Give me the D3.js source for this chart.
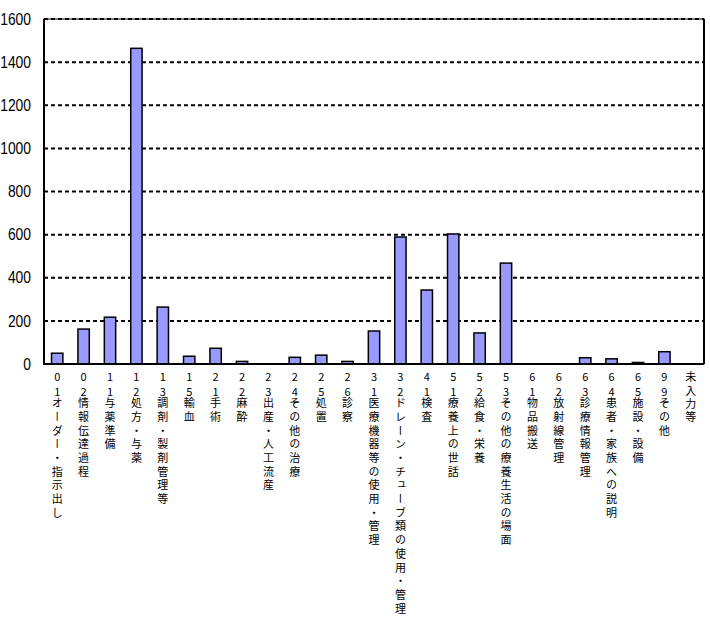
<!DOCTYPE html>
<html><head><meta charset="utf-8">
<script src="https://cdnjs.cloudflare.com/ajax/libs/d3/7.8.5/d3.min.js"></script>
<style>
html,body{margin:0;padding:0;background:#fff;}
svg{display:block;}
.vlab{writing-mode:vertical-rl;text-orientation:upright;}
</style></head>
<body>
<svg id="chart" width="710" height="620"></svg>
<script>
const codes = ["01","02","11","12","13","15","21","22","23","24","25","26","31","32","41","51","52","53","61","62","63","64","65","99",""];
const names = ["オーダー・指示出し","情報伝達過程","与薬準備","処方・与薬","調剤・製剤管理等","輸血","手術","麻酔","出産・人工流産","その他の治療","処置","診察","医療機器等の使用・管理","ドレーン・チューブ類の使用・管理","検査","療養上の世話","給食・栄養","その他の療養生活の場面","物品搬送","放射線管理","診療情報管理","患者・家族への説明","施設・設備","その他","未入力等"];
const values = [50,162,217,1464,264,36,73,12,0,31,41,12,153,589,343,603,144,468,0,0,29,24,7,57,0];
const yTicks = [0,200,400,600,800,1000,1200,1400,1600];

const svg = d3.select("#chart");
const L = 44, R = 704, T = 19, B = 364;
const idx = d3.range(codes.length);
const x = d3.scaleBand().domain(idx).range([L, R]).paddingInner(0.57).paddingOuter(0.285);
const y = d3.scaleLinear().domain([0,1600]).range([B, T]);

// gridlines
svg.append("g").selectAll("line").data(yTicks.filter(d=>d>0)).join("line")
  .attr("x1", L).attr("x2", R).attr("y1", d=>y(d)).attr("y2", d=>y(d))
  .attr("stroke","#000").attr("stroke-width",2).attr("stroke-dasharray","4,3");

// frame
svg.append("rect").attr("x",L).attr("y",T).attr("width",R-L).attr("height",B-T)
  .attr("fill","none").attr("stroke","#000").attr("stroke-width",1);

// bars
svg.append("g").selectAll("rect").data(idx.filter(i=>values[i]>0)).join("rect")
  .attr("x", i=>x(i)).attr("width", x.bandwidth())
  .attr("y", i=>y(values[i])).attr("height", i=>B - y(values[i]))
  .attr("fill","#9999ff").attr("stroke","#000").attr("stroke-width",1.5);

// axes lines
svg.append("line").attr("x1",L).attr("x2",L).attr("y1",T).attr("y2",B+1).attr("stroke","#000").attr("stroke-width",2);
svg.append("line").attr("x1",L).attr("x2",R).attr("y1",B).attr("y2",B).attr("stroke","#000").attr("stroke-width",2);
svg.append("line").attr("x1",R).attr("x2",R).attr("y1",T).attr("y2",B).attr("stroke","#000").attr("stroke-width",2);

// y axis labels via d3 axis
const yAxis = d3.axisLeft(y).tickValues(yTicks).tickSize(0).tickPadding(13).tickFormat(d3.format("d"));
const ga = svg.append("g").attr("transform",`translate(${L},0)`).call(yAxis);
ga.select(".domain").remove();
ga.selectAll("text").attr("font-family","'Liberation Sans',Arial,sans-serif")
  .attr("font-size",16).attr("fill","#000")
  .attr("textLength", d=>String(d).length*7.7).attr("lengthAdjust","spacingAndGlyphs");

// x labels (vertical writing, one text per character)
const lab = svg.append("g").attr("font-family","'Noto Sans CJK JP',sans-serif").attr("font-size",11).attr("fill","#000");
idx.forEach(i=>{
  const cx = x(i) + x.bandwidth()/2;
  const items = [];
  if (codes[i]) {
    items.push({c:codes[i][0], y:377});
    items.push({c:codes[i][1], y:392});
    Array.from(names[i]).forEach((c,k)=>items.push({c, y:403 + 13.7*k}));
  } else {
    Array.from(names[i]).forEach((c,k)=>items.push({c, y:377 + 13.4*k}));
  }
  items.forEach(it=>{
    lab.append("text").attr("class","vlab").attr("x",cx).attr("y",it.y - 5.5).text(it.c);
  });
});
</script>
</body></html>
